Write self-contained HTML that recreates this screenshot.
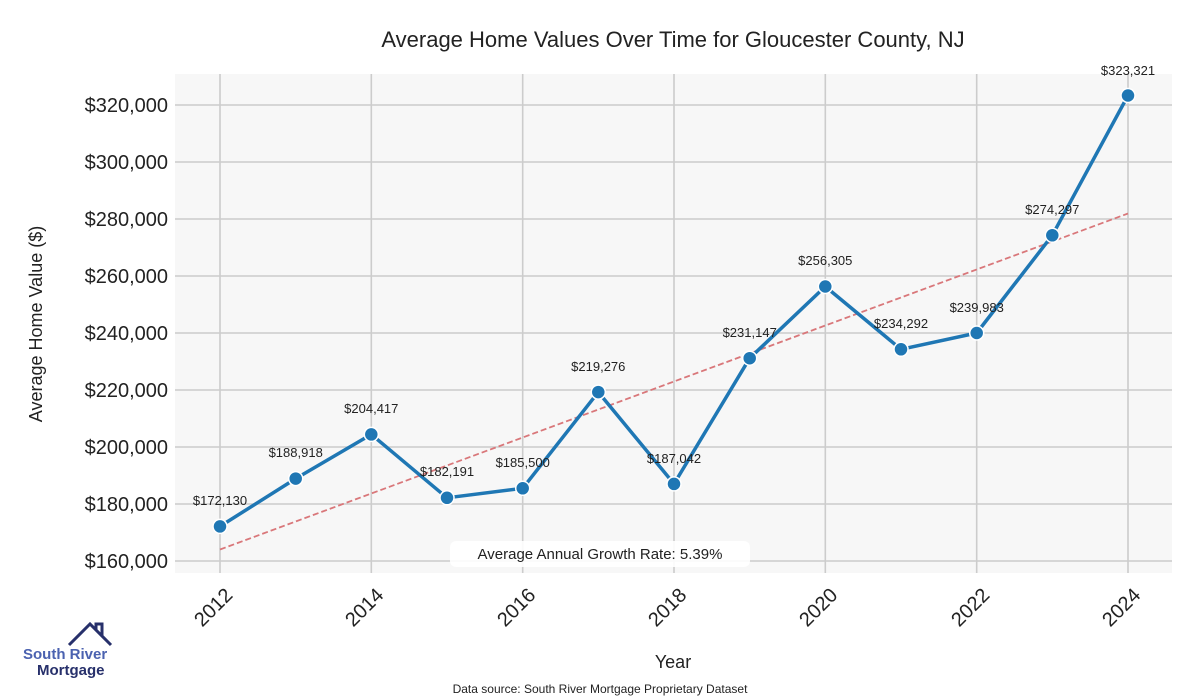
<!DOCTYPE html>
<html><head><meta charset="utf-8"><style>
html,body{margin:0;padding:0;background:#fff;width:1200px;height:700px;overflow:hidden}
svg{display:block}
</style></head><body>
<svg width="1200" height="700" viewBox="0 0 1200 700" font-family="Liberation Sans, Arial, sans-serif">
<rect x="175" y="74" width="997" height="499" fill="#f7f7f7"/>
<g stroke="#cccccc" stroke-width="1.6">
<line x1="175" x2="1172" y1="105" y2="105"/><line x1="175" x2="1172" y1="162" y2="162"/>
<line x1="175" x2="1172" y1="219" y2="219"/><line x1="175" x2="1172" y1="276" y2="276"/>
<line x1="175" x2="1172" y1="333" y2="333"/><line x1="175" x2="1172" y1="390" y2="390"/>
<line x1="175" x2="1172" y1="447" y2="447"/><line x1="175" x2="1172" y1="504" y2="504"/>
<line x1="175" x2="1172" y1="561" y2="561"/>
<line x1="220" x2="220" y1="74" y2="573"/><line x1="371.3" x2="371.3" y1="74" y2="573"/>
<line x1="522.7" x2="522.7" y1="74" y2="573"/><line x1="674" x2="674" y1="74" y2="573"/>
<line x1="825.3" x2="825.3" y1="74" y2="573"/><line x1="976.7" x2="976.7" y1="74" y2="573"/>
<line x1="1128" x2="1128" y1="74" y2="573"/>
</g>
<line x1="220" y1="549.5" x2="1128" y2="213.5" stroke="#d9777a" stroke-width="1.8" stroke-dasharray="6,3"/>
<polyline fill="none" stroke="#1f77b4" stroke-width="3.5" stroke-linejoin="round" points="220,526.4 295.7,478.6 371.3,434.4 447,497.8 522.7,488.3 598.3,392.1 674,483.9 749.7,358.2 825.3,286.5 901,349.3 976.7,333 1052.3,235.3 1128,95.5"/>
<g fill="#1f77b4" stroke="#fff" stroke-width="1.5">
<circle cx="220" cy="526.4" r="7"/><circle cx="295.7" cy="478.6" r="7"/><circle cx="371.3" cy="434.4" r="7"/>
<circle cx="447" cy="497.8" r="7"/><circle cx="522.7" cy="488.3" r="7"/><circle cx="598.3" cy="392.1" r="7"/>
<circle cx="674" cy="483.9" r="7"/><circle cx="749.7" cy="358.2" r="7"/><circle cx="825.3" cy="286.5" r="7"/>
<circle cx="901" cy="349.3" r="7"/><circle cx="976.7" cy="333" r="7"/><circle cx="1052.3" cy="235.3" r="7"/>
<circle cx="1128" cy="95.5" r="7"/>
</g>
<g font-size="13" fill="#222" text-anchor="middle">
<text x="220" y="505">$172,130</text><text x="295.7" y="457">$188,918</text><text x="371.3" y="413">$204,417</text>
<text x="447" y="476">$182,191</text><text x="522.7" y="467">$185,500</text><text x="598.3" y="371">$219,276</text>
<text x="674" y="463">$187,042</text><text x="749.7" y="337">$231,147</text><text x="825.3" y="265">$256,305</text>
<text x="901" y="328">$234,292</text><text x="976.7" y="312">$239,983</text><text x="1052.3" y="214">$274,297</text>
<text x="1128" y="75">$323,321</text>
</g>
<rect x="450" y="541" width="300" height="26" rx="6" fill="#fff" opacity="0.9"/>
<text x="600" y="559" font-size="15" fill="#222" text-anchor="middle">Average Annual Growth Rate: 5.39%</text>
<g font-size="20" fill="#222" text-anchor="end">
<text x="168" y="112">$320,000</text><text x="168" y="169">$300,000</text><text x="168" y="226">$280,000</text>
<text x="168" y="283">$260,000</text><text x="168" y="340">$240,000</text><text x="168" y="397">$220,000</text>
<text x="168" y="454">$200,000</text><text x="168" y="511">$180,000</text><text x="168" y="568">$160,000</text>
</g>
<g font-size="20" fill="#222" text-anchor="middle">
<text transform="translate(218,612) rotate(-45)">2012</text>
<text transform="translate(369,612) rotate(-45)">2014</text>
<text transform="translate(521,612) rotate(-45)">2016</text>
<text transform="translate(672,612) rotate(-45)">2018</text>
<text transform="translate(823,612) rotate(-45)">2020</text>
<text transform="translate(975,612) rotate(-45)">2022</text>
<text transform="translate(1126,612) rotate(-45)">2024</text>
</g>
<text x="673" y="668" font-size="18" fill="#222" text-anchor="middle">Year</text>
<text transform="translate(42,324) rotate(-90)" font-size="18" fill="#222" text-anchor="middle">Average Home Value ($)</text>
<text x="673" y="47" font-size="22" fill="#222" text-anchor="middle">Average Home Values Over Time for Gloucester County, NJ</text>
<text x="600" y="693" font-size="12" fill="#222" text-anchor="middle">Data source: South River Mortgage Proprietary Dataset</text>
<polyline points="69,645 90,624 111,645" fill="none" stroke="#27306b" stroke-width="3"/>
<polyline points="96,630 96,624 102,624 102,636" fill="none" stroke="#27306b" stroke-width="3"/>
<text x="23" y="659" font-size="15" font-weight="bold" fill="#4b62b0">South River</text>
<text x="37" y="675" font-size="15" font-weight="bold" fill="#27306b">Mortgage</text>
</svg>
</body></html>
